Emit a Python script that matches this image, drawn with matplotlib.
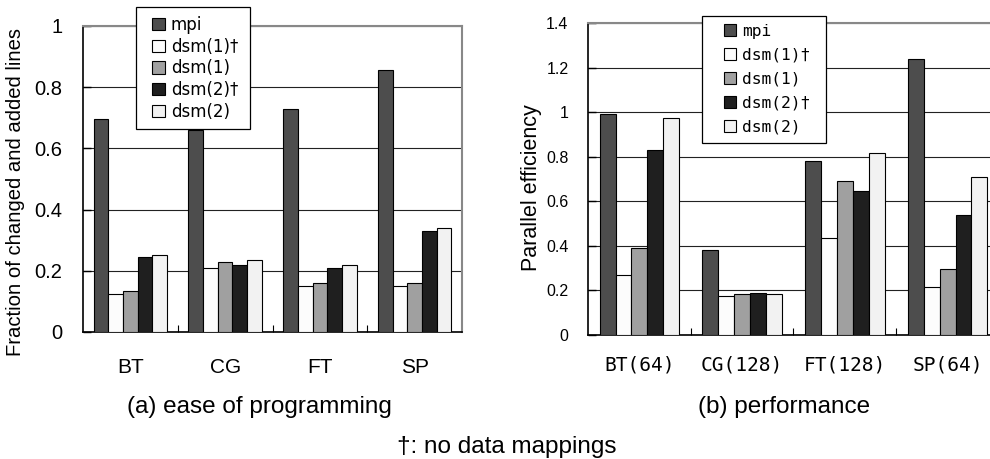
import numpy as np
import matplotlib
matplotlib.use('Agg')
import matplotlib.pyplot as plt
from matplotlib import font_manager
from matplotlib.patches import Rectangle

plt.rcParams['font.family'] = ['Liberation Sans', 'DejaVu Sans']

series = ['mpi', 'dsm(1)†', 'dsm(1)', 'dsm(2)†', 'dsm(2)']
colors = ['#4d4d4d', '#fcfcfc', '#a0a0a0', '#1f1f1f', '#f2f2f2']

ease_labels = ['BT', 'CG', 'FT', 'SP']
ease_values = [
    [0.695, 0.66, 0.73, 0.855],   # mpi
    [0.125, 0.21, 0.15, 0.15],    # dsm(1)†
    [0.135, 0.23, 0.16, 0.16],    # dsm(1)
    [0.245, 0.22, 0.21, 0.33],    # dsm(2)†
    [0.25, 0.235, 0.22, 0.34],    # dsm(2)
]

perf_labels = ['BT(64)', 'CG(128)', 'FT(128)', 'SP(64)']
perf_values = [
    [0.99, 0.38, 0.78, 1.24],     # mpi
    [0.27, 0.177, 0.437, 0.217],  # dsm(1)†
    [0.392, 0.183, 0.689, 0.298], # dsm(1)
    [0.829, 0.189, 0.648, 0.54],  # dsm(2)†
    [0.973, 0.183, 0.816, 0.708], # dsm(2)
]

names = {f.name for f in font_manager.fontManager.ttflist}
narrow = 'Liberation Sans Narrow' if 'Liberation Sans Narrow' in names else 'Liberation Sans'


def draw_bars(ax, labels, values, ymax, step):
    x = np.arange(len(labels))
    w = 0.155
    bars = []
    for i, vals in enumerate(values):
        b = ax.bar(x + (i - 2) * w, vals, w, color=colors[i], edgecolor='black',
                   linewidth=0.8, zorder=3, label=series[i])
        bars.append(b)
    ax.set_xlim(-0.5, len(labels) - 0.5)
    ax.set_ylim(0, ymax)
    ax.set_yticks(np.arange(0, ymax + step / 2, step))
    ax.set_xticks(x)
    ax.set_xticks(x[:-1] + 0.5, minor=True)
    ax.tick_params(axis='x', which='major', length=0)
    ax.tick_params(axis='x', which='minor', direction='in', length=5, width=0.8)
    ax.tick_params(axis='y', direction='in', length=6, width=1)
    ax.yaxis.grid(True, color='#222222', linewidth=0.8, zorder=0)
    ax.set_axisbelow(True)
    for s in ['top', 'right']:
        ax.spines[s].set_color('#888888')
        ax.spines[s].set_linewidth(1.5)
    for s in ['left', 'bottom']:
        ax.spines[s].set_color('black')
        ax.spines[s].set_linewidth(1.2)
    return bars


def boxed_legend(fig, bars, anchor_px, pads, **kw):
    # legend content without frame, then a white box with extra side padding
    left, right, top, bottom = pads
    x, y = anchor_px
    leg = fig.legend(bars, series, loc='upper left',
                     bbox_to_anchor=((x + left) / 990, 1 - (y + top) / 459),
                     borderaxespad=0, borderpad=0, frameon=False, **kw)
    leg.set_zorder(6)
    fig.canvas.draw()
    bb = leg.get_window_extent()
    rect = Rectangle((bb.x0 - left, bb.y0 - bottom), bb.width + left + right,
                     bb.height + top + bottom, transform=None,
                     facecolor='white', edgecolor='black', linewidth=0.9, zorder=5)
    fig.add_artist(rect)
    return leg


fig = plt.figure(figsize=(9.9, 4.59), dpi=100)

# (a) ease of programming
ax1 = fig.add_axes([0.0838, 0.2767, 0.383, 0.6667])
bars1 = draw_bars(ax1, ease_labels, ease_values, 1.0, 0.2)
ax1.set_yticklabels(['0', '0.2', '0.4', '0.6', '0.8', '1'], fontsize=14.5)
ax1.tick_params(axis='y', pad=15)
ax1.set_xticklabels(ease_labels, fontsize=15)
ax1.tick_params(axis='x', which='major', pad=19)
ax1.set_ylabel('Fraction of changed and added lines', fontsize=14.6)
ax1.yaxis.set_label_coords(-0.153, 0.458)

# (b) performance
ax2 = fig.add_axes([0.594, 0.270, 0.415, 0.680])
bars2 = draw_bars(ax2, perf_labels, perf_values, 1.4, 0.2)
ax2.set_yticklabels(['0', '0.2', '0.4', '0.6', '0.8', '1', '1.2', '1.4'],
                    fontsize=11.5, family=narrow)
ax2.tick_params(axis='y', pad=14)
ax2.set_xticklabels(perf_labels, fontsize=14, family='DejaVu Sans Mono')
ax2.tick_params(axis='x', which='major', pad=15)
ax2.set_ylabel('Parallel efficiency', fontsize=15.5)
ax2.yaxis.set_label_coords(-0.112, 0.471)

boxed_legend(fig, bars1, (136, 7), (16, 12, 9, 8),
             prop={'family': 'DejaVu Sans', 'size': 12},
             handlelength=0.78, handleheight=0.78, handletextpad=0.35,
             labelspacing=0.22)
boxed_legend(fig, bars2, (702, 16), (22, 16, 8, 8),
             prop={'family': 'DejaVu Sans Mono', 'size': 11.7},
             handlelength=0.74, handleheight=0.74, handletextpad=0.37,
             labelspacing=0.55)

fig.text(259 / 990, 1 - 407 / 459, '(a) ease of programming', ha='center', va='center', fontsize=17.5)
fig.text(784 / 990, 1 - 407 / 459, '(b) performance', ha='center', va='center', fontsize=17.5)
fig.text(507 / 990, 1 - 447 / 459, '†: no data mappings', ha='center', va='center', fontsize=17.5)

fig.savefig('out.png', dpi=100)
